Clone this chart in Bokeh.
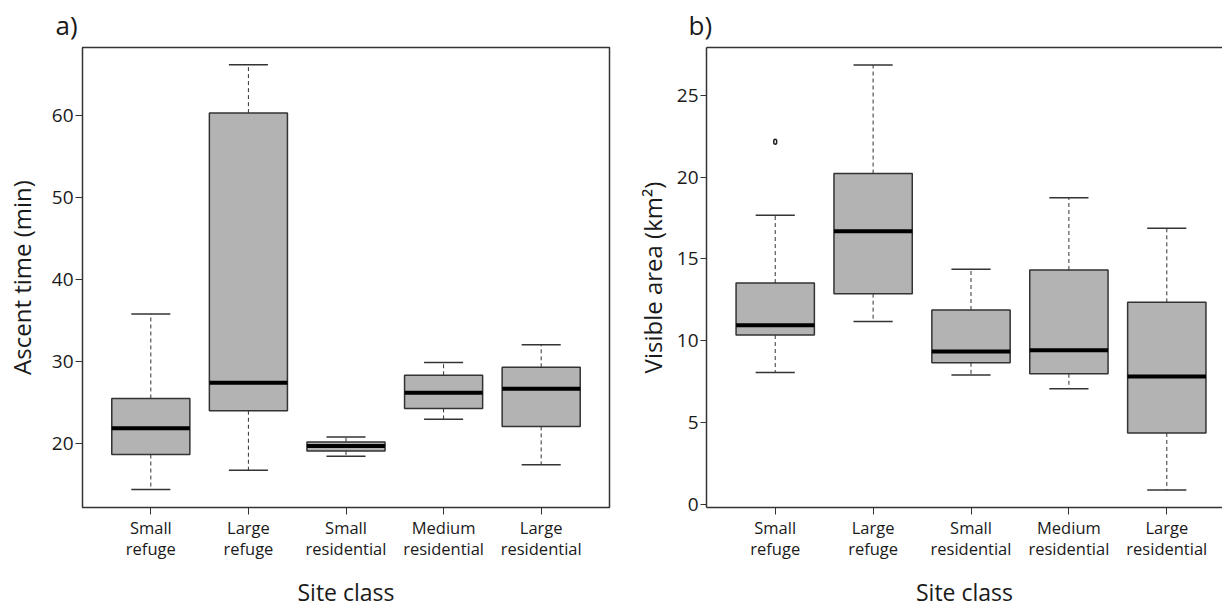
from bokeh.plotting import figure
from bokeh.layouts import row
from bokeh.models import FixedTicker, LinearAxis, Range1d, ColumnDataSource
from bokeh.embed import file_html
from bokeh.resources import INLINE

# ---- data ----
categories = ["Small\nrefuge", "Large\nrefuge", "Small\nresidential",
              "Medium\nresidential", "Large\nresidential"]
positions = [1, 2, 3, 4, 5]

ascent_low = [14.4, 16.75, 18.46, 22.95, 17.4]
ascent_q1 = [18.66, 24.0, 19.1, 24.28, 22.09]
ascent_med = [21.85, 27.4, 19.7, 26.2, 26.67]
ascent_q3 = [25.5, 60.3, 20.2, 28.33, 29.3]
ascent_high = [35.8, 66.2, 20.8, 29.87, 32.05]
ascent_ticks = [20, 30, 40, 50, 60]

area_low = [8.05, 11.17, 7.90, 7.06, 0.86]
area_q1 = [10.34, 12.87, 8.64, 7.97, 4.35]
area_med = [10.94, 16.69, 9.34, 9.41, 7.81]
area_q3 = [13.52, 20.22, 11.87, 14.32, 12.34]
area_high = [17.67, 26.86, 14.37, 18.74, 16.88]
area_out_x = [1]
area_out_y = [22.16]
area_ticks = [0, 5, 10, 15, 20, 25]

FONT = "Open Sans"
TXT = "#1a1a1a"
LINE = "#333333"
BOX_HALF = 0.4
CAP_HALF = 0.2


def make_panel(tag, tag_offset, ylabel, low, q1, med, q3, high, yticks, yr, xr,
               width, mb_left, mb_right, ytick_len, ylab_standoff, outline=True):
    p = figure(width=width, height=611, output_backend="svg", toolbar_location=None,
               x_range=Range1d(*xr), y_range=Range1d(*yr),
               min_border_left=mb_left, min_border_right=mb_right,
               min_border_top=47, min_border_bottom=103)
    p.background_fill_color = "white"
    p.border_fill_color = "white"
    p.grid.visible = False

    src = ColumnDataSource(dict(
        x=positions,
        left=[x - BOX_HALF for x in positions],
        right=[x + BOX_HALF for x in positions],
        cl=[x - CAP_HALF for x in positions],
        cr=[x + CAP_HALF for x in positions],
        low=low, q1=q1, med=med, q3=q3, high=high))

    # whiskers (dashed)
    p.segment(x0="x", y0="q3", x1="x", y1="high", source=src,
              line_color=LINE, line_width=1, line_dash="4 3")
    p.segment(x0="x", y0="q1", x1="x", y1="low", source=src,
              line_color=LINE, line_width=1, line_dash="4 3")
    # caps
    p.segment(x0="cl", y0="high", x1="cr", y1="high", source=src,
              line_color=LINE, line_width=1.5)
    p.segment(x0="cl", y0="low", x1="cr", y1="low", source=src,
              line_color=LINE, line_width=1.5)
    # boxes
    p.quad(left="left", right="right", bottom="q1", top="q3", source=src,
           fill_color="#b3b3b3", line_color=LINE, line_width=1.5)
    # medians
    p.segment(x0="left", y0="med", x1="right", y1="med", source=src,
              line_color="black", line_width=4)

    # panel tag
    p.title.text = tag
    p.title.text_font = FONT
    p.title.text_font_size = "26px"
    p.title.text_font_style = "normal"
    p.title.text_color = TXT
    p.title.align = "left"
    p.title.offset = tag_offset
    p.title.standoff = 9

    # y axis
    ya = p.yaxis[0]
    ya.ticker = FixedTicker(ticks=yticks)
    ya.axis_label = ylabel
    ya.axis_label_text_font = FONT
    ya.axis_label_text_font_size = "24px"
    ya.axis_label_text_font_style = "normal"
    ya.axis_label_text_color = TXT
    ya.axis_label_standoff = ylab_standoff
    ya.major_label_text_font = FONT
    ya.major_label_text_font_size = "19px"
    ya.major_label_text_color = TXT
    ya.major_label_standoff = 2
    ya.major_tick_out = ytick_len
    ya.major_tick_in = 0
    ya.major_tick_line_color = LINE
    ya.minor_tick_line_color = None

    # x axis
    xa = p.xaxis[0]
    xa.ticker = FixedTicker(ticks=positions)
    xa.major_label_overrides = {pos: lab for pos, lab in zip(positions, categories)}
    xa.axis_label = "Site class"
    xa.axis_label_text_font = FONT
    xa.axis_label_text_font_size = "23px"
    xa.axis_label_text_font_style = "normal"
    xa.axis_label_text_line_height = 1.0
    xa.axis_label_text_color = TXT
    xa.axis_label_standoff = 13
    xa.major_label_text_font = FONT
    xa.major_label_text_font_size = "16.5px"
    xa.major_label_text_line_height = 0.95
    xa.major_label_text_color = TXT
    xa.major_label_standoff = 1
    xa.major_tick_out = 7
    xa.major_tick_in = 0
    xa.major_tick_line_color = LINE
    xa.minor_tick_line_color = None

    if outline:
        p.outline_line_color = LINE
        p.outline_line_width = 1.5
        p.axis.axis_line_color = None
    else:
        p.outline_line_color = None
        p.axis.axis_line_color = LINE
        p.axis.axis_line_width = 1.5
        top = LinearAxis(ticker=FixedTicker(ticks=[]), major_label_text_font_size="0px",
                         axis_line_color=LINE, axis_line_width=1.5,
                         major_tick_line_color=None, minor_tick_line_color=None)
        p.add_layout(top, "above")
    return p


pa = make_panel("a)", -27, "Ascent time (min)", ascent_low, ascent_q1, ascent_med,
                ascent_q3, ascent_high, ascent_ticks, (12.2, 68.3), (0.3, 5.7),
                612, 82, 3, 7, 11, outline=True)

pb = make_panel("b)", -18, "Visible area (km²)", area_low, area_q1, area_med,
                area_q3, area_high, area_ticks, (-0.21, 27.93), (0.298, 5.569),
                610, 94, 0, 6, 5, outline=False)
pb.ellipse(x=area_out_x, y=area_out_y, width=3, height=5, width_units="screen",
           height_units="screen", fill_color=None, line_color="#222222", line_width=1.5)

layout = row(pa, pb)
open("out.html", "w").write(file_html(layout, INLINE))
